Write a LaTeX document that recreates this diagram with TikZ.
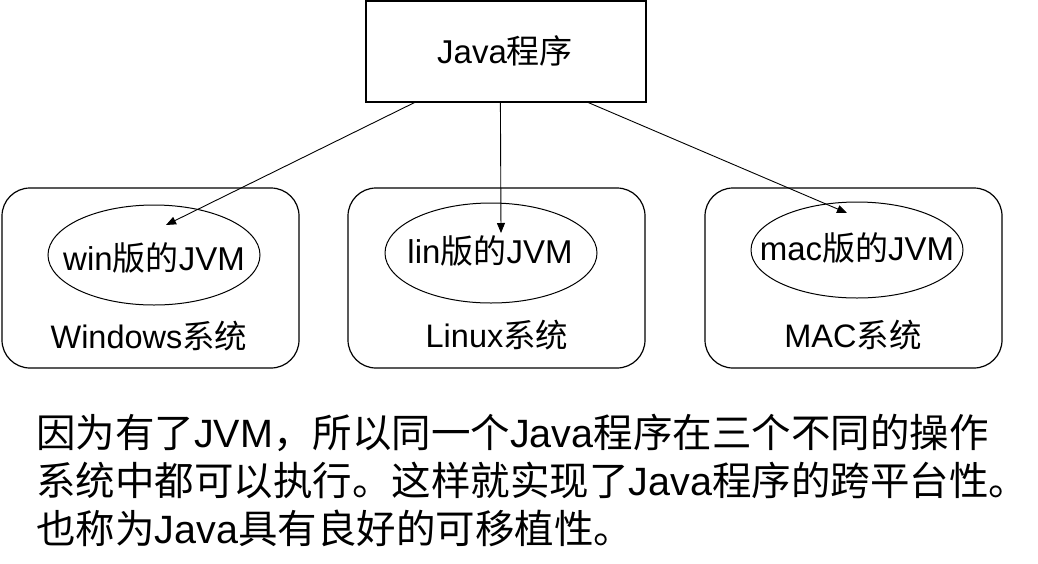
\documentclass[tikz,border=0pt]{standalone}
\usepackage{fontspec}
\setmainfont{Liberation Sans}
\newfontfamily\cjk{Noto Sans CJK SC}
\newcommand{\zh}[1]{{\cjk #1}}
\usetikzlibrary{shapes.geometric,arrows.meta}
\begin{document}
\begin{tikzpicture}[x=1pt,y=-1pt,
  lbl/.style={font=\fontsize{33}{40}\selectfont, inner sep=0pt},
  syslbl/.style={font=\fontsize{32.5}{40}\selectfont, inner sep=0pt, anchor=base},
  sysbox/.style={draw, line width=1.2pt, rounded corners=28pt, minimum width=297pt, minimum height=180pt, inner sep=0pt},
  jvm/.style={draw, ellipse, line width=1pt, minimum width=212pt, minimum height=100pt, inner sep=0pt, font=\fontsize{33}{40}\selectfont},
  conn/.style={line width=0.9pt, -{Triangle[length=10pt,width=8pt]}},
  note/.style={font=\fontsize{39.5}{48}\selectfont, inner sep=0pt, anchor=base west, align=left}]
\useasboundingbox (0,0) rectangle (1038,563);
% program box
\node[draw, line width=1.2pt, minimum width=280pt, minimum height=101pt, inner sep=0pt] (prog) at (506,51.5) {};
\node[lbl, anchor=base] (progtxt) at (505,63) {Java\zh{程序}};
% system boxes
\node[sysbox] (winsys) at (150.5,278) {};
\node[sysbox] (linsys) at (496.5,278) {};
\node[sysbox] (macsys) at (853.5,278) {};
% JVM ellipses
\node[jvm] (win) at (154,255) {};
\node[jvm] (lin) at (491,253) {};
\node[jvm, minimum height=96pt] (mac) at (857,250) {};
\node[lbl, anchor=base] (wintxt) at (154,270) {win\zh{版的}JVM};
\node[lbl, anchor=base] (lintxt) at (490,263) {lin\zh{版的}JVM};
\node[lbl, anchor=base] (mactxt) at (857,260) {mac\zh{版的}JVM};
% system labels
\node[syslbl] (winlbl) at (149,348) {Windows\zh{系统}};
\node[syslbl] (linlbl) at (497,347) {Linux\zh{系统}};
\node[syslbl] (maclbl) at (853,347) {MAC\zh{系统}};
% connector ends
\coordinate (s1) at ([xshift=49pt]prog.south west);
\coordinate (s2) at ([xshift=135pt]prog.south west);
\coordinate (s3) at ([xshift=223pt]prog.south west);
\coordinate (t1) at ([shift={(12,-30)}]win.center);
\coordinate (t2) at ([shift={(10,-20)}]lin.center);
\coordinate (t3) at ([shift={(-10,-37)}]mac.center);
\draw[conn] (s1) -- (t1);
\draw[conn] (s2) -- (t2);
\draw[conn] (s3) -- (t3);
% note
\node[note] (txt) at (36,543) {\zh{因为有了}JVM\zh{，所以同一个}Java\zh{程序在三个不同的操作}\\
\zh{系统中都可以执行。这样就实现了}Java\zh{程序的跨平台性。}\\
\zh{也称为}Java\zh{具有良好的可移植性。}};
\end{tikzpicture}
\end{document}
